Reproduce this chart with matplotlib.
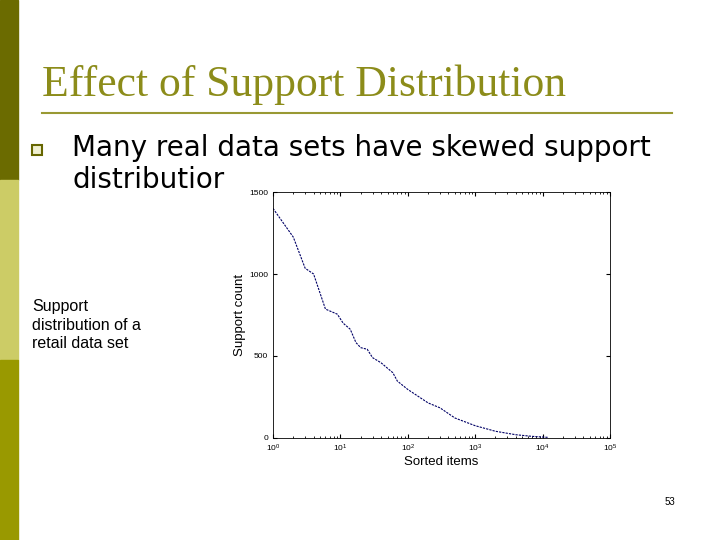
import matplotlib
matplotlib.use('Agg')
import matplotlib.pyplot as plt
from matplotlib.patches import Rectangle
from matplotlib.lines import Line2D

# 排序后的项目编号与支持度计数
items = [1, 2, 3, 4, 6, 9, 11, 14, 17, 20, 25, 30, 40, 60, 70, 100, 200, 300, 500,
         1000, 2000, 4000, 7000, 12000]
support = [1400, 1225, 1035, 1000, 786, 755, 700, 663, 582, 551, 541, 490, 459, 398, 347,
           296, 214, 184, 122, 75, 41, 20, 10, 4]
x_ticks = [1, 10, 100, 1000, 10000, 100000]
y_ticks = [0, 500, 1000, 1500]

fig = plt.figure(figsize=(7.2, 5.4), dpi=100)
W, H = 720, 540

# 左侧色条
for y0, y1, c in [(0, 180, '#6b6b00'), (180, 360, '#cccc66'), (360, 540, '#999900')]:
    fig.patches.append(Rectangle((0, 1 - y1 / H), 18 / W, (y1 - y0) / H,
                                 transform=fig.transFigure, color=c, zorder=0))

fig.text(42 / W, 1 - 85 / H, 'Effect of Support Distribution', family='Liberation Serif',
         fontsize=31.4, color='#8c8c1a', va='center')
fig.lines.append(Line2D([42 / W, 672 / W], [1 - 113 / H] * 2, transform=fig.transFigure,
                        color='#999933', lw=1.5))
# 项目符号
fig.patches.append(Rectangle((32 / W, 1 - 155 / H), 10 / W, 10 / H, transform=fig.transFigure,
                             facecolor='#f0f0d0', edgecolor='#666600', lw=1.5))
fig.text(72 / W, 1 - 148 / H, 'Many real data sets have skewed support', fontsize=20,
         va='center', family='DejaVu Sans')
fig.text(72 / W, 1 - 180 / H, 'distributior', fontsize=20, va='center', family='DejaVu Sans')
fig.text(32 / W, 1 - 325 / H, 'Support\ndistribution of a\nretail data set', fontsize=11.5,
         va='center', family='Liberation Sans', linespacing=1.25)
fig.text(665 / W, 1 - 502 / H, '53', fontsize=7, va='center', family='Liberation Sans')

ax = fig.add_axes([273 / W, 1 - 438 / H, (610 - 273) / W, (438 - 192) / H])
ax.plot(items, support, color='#000066', lw=0.8, ls=(0, (2, 1)))
ax.set_xscale('log')
ax.set_xlim(1, 100000)
ax.set_ylim(0, 1500)
ax.set_xticks(x_ticks)
ax.set_yticks(y_ticks)
ax.tick_params(labelsize=6, direction='in', top=True, right=True, which='both', length=3)
ax.tick_params(which='minor', length=1.5)
for lab in ax.get_xticklabels() + ax.get_yticklabels():
    lab.set_family('Liberation Sans')
ax.set_xlabel('Sorted items', fontsize=9.5, labelpad=1, family='Liberation Sans')
ax.set_ylabel('Support count', fontsize=9.5, labelpad=2, family='Liberation Sans')
for s in ax.spines.values():
    s.set_linewidth(0.6)

fig.savefig('out.png', dpi=100)
